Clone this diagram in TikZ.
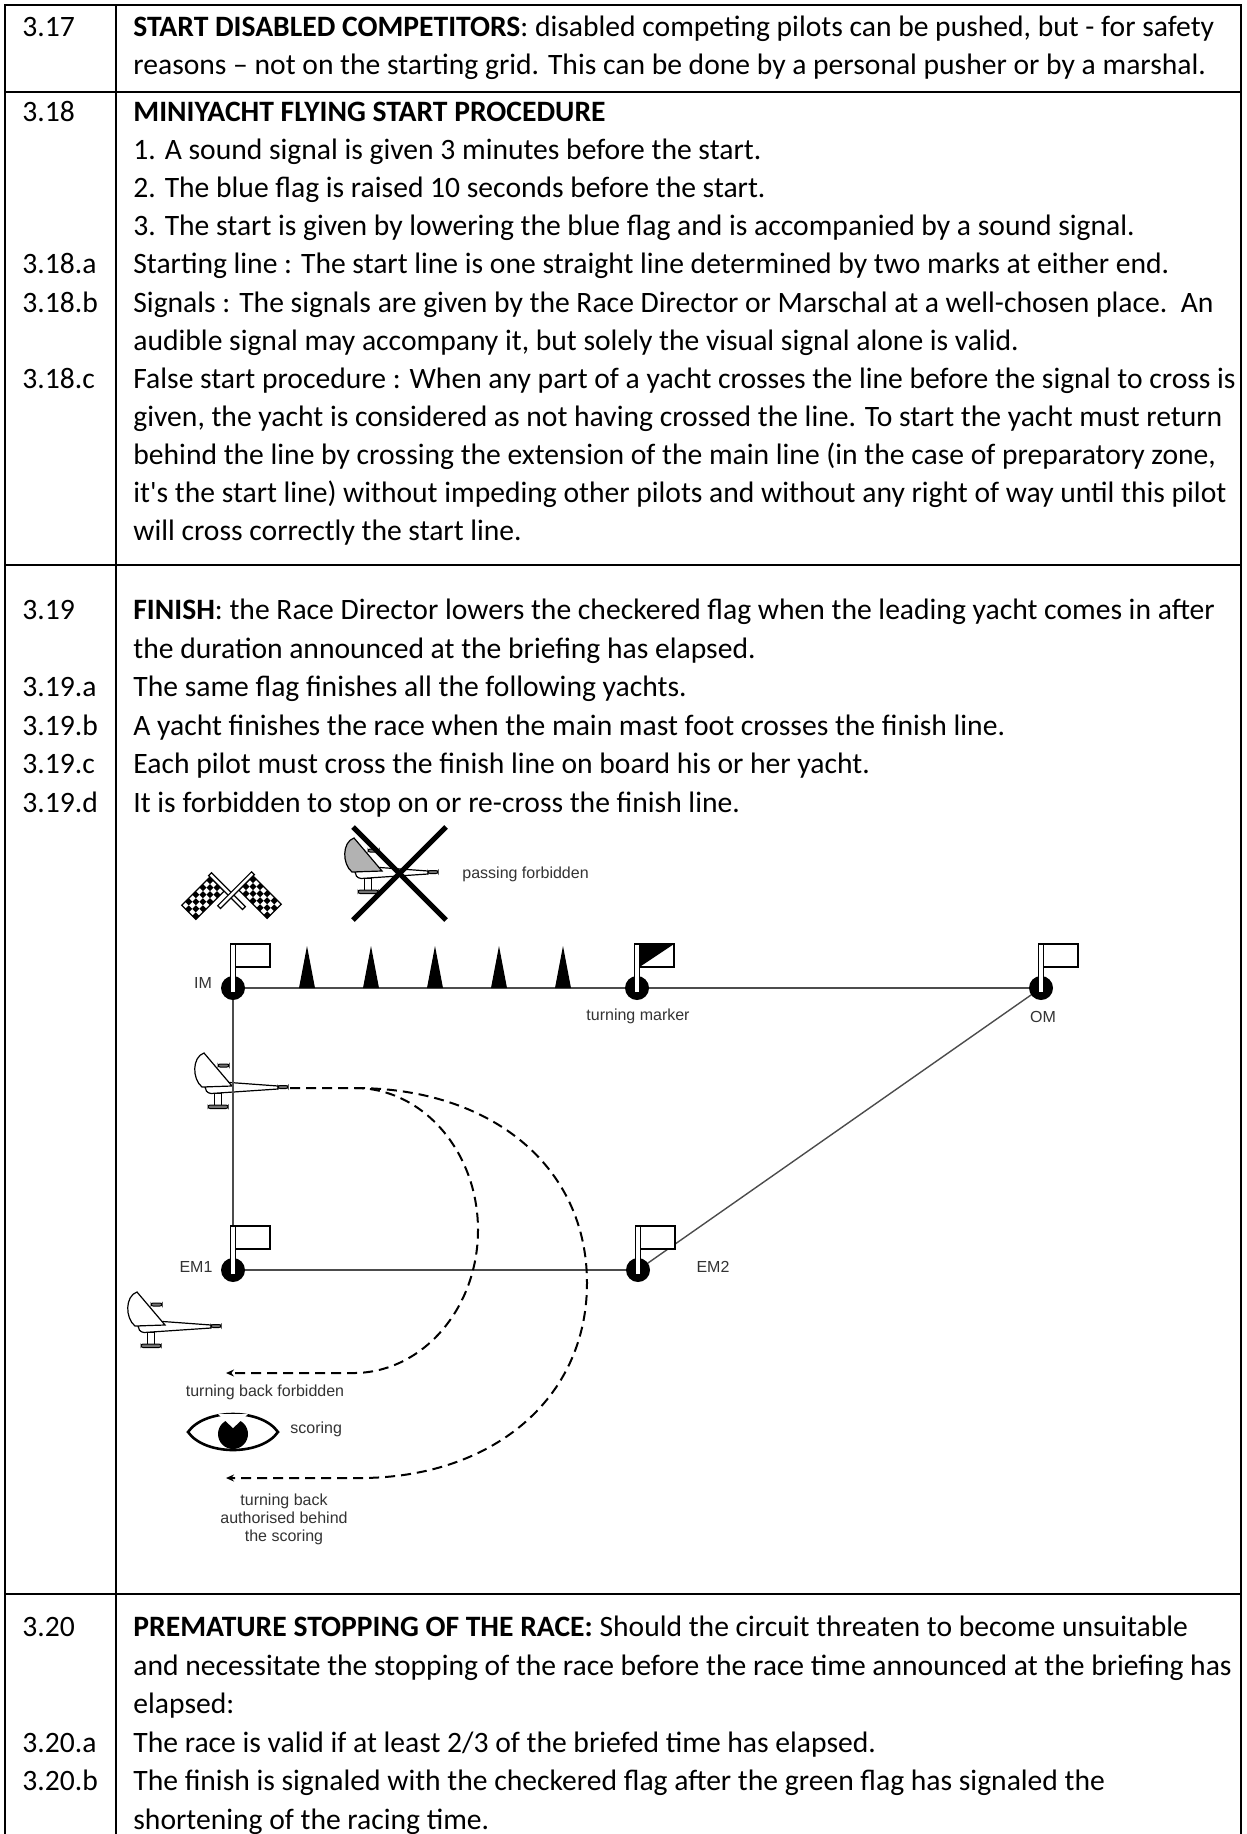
\documentclass[tikz,border=0pt]{standalone}
\usepackage{fontspec}
\setmainfont{Carlito}[Ligatures=TeXOff]
\newfontfamily\lblfont{Liberation Sans}
\usetikzlibrary{arrows.meta}
\tikzset{
  pics/yacht/.style={code={
    \filldraw[fill=white,line width=0.6pt] (3,0) -- (28,-4.5) -- (76,-1) -- (76,2) -- (9,6.5) .. controls (5,6) and (3,3) .. (3,0) -- cycle;
    \filldraw[fill=#1,line width=0.6pt] (0,0) .. controls (-10,-8) and (-10,-30) .. (2,-34) -- (30,-1) -- cycle;
    \filldraw[fill=black!55,line width=0.5pt,rounded corners=1pt] (16,-23) rectangle (27,-20);
    \filldraw[fill=black!55,line width=0.5pt,rounded corners=1pt] (76,-1.5) rectangle (86,1.5);
    \filldraw[fill=white,line width=0.5pt] (12,6.5) rectangle (19,18);
    \filldraw[fill=black!55,line width=0.5pt,rounded corners=1pt] (6,18) rectangle (26,21.5);
  }},
  pics/yacht/.default=white,
  pics/buoy/.style={code={
    \fill (0,0) circle[radius=12];
    \filldraw[fill=white,line width=0.6pt] (-2.5,-44) rectangle (2.5,5);
    \filldraw[fill=white,line width=0.8pt] (2.5,-44) rectangle (37,-21);
  }},
  pics/buoyT/.style={code={
    \fill (0,0) circle[radius=12];
    \filldraw[fill=white,line width=0.6pt] (-2.5,-44) rectangle (2.5,5);
    \filldraw[fill=white,line width=0.8pt] (2.5,-44) rectangle (37,-21);
    \fill (2.5,-44) -- (37,-44) -- (2.5,-21) -- cycle;
    \draw[line width=0.8pt] (2.5,-44) rectangle (37,-21);
  }},
  pics/cflag/.style={code={
    \fill[white] (0,0) rectangle (20,40);
    \foreach \i in {0,1,2,3}{\foreach \j in {0,2,4,6}{
      \fill ({\i*5},{(\j+mod(\i,2))*5}) rectangle +(5,5);}}
    \draw[line width=0.6pt] (0,0) rectangle (20,40);
    \filldraw[fill=white,line width=0.6pt] (-2,-4) rectangle (46,0);
  }}
}
\begin{document}
\begin{tikzpicture}[x=0.5pt,y=-0.5pt,
  txt/.style={anchor=base west,inner sep=0pt,font=\fontsize{14.8}{18}\selectfont},
  lbl/.style={inner sep=0pt,font=\lblfont\fontsize{8}{9}\selectfont,text=black!80},
  grid/.style={line width=1.4pt},
  course/.style={line width=0.7pt,draw=black!70},
  track/.style={line width=1pt,dash pattern=on 5pt off 3pt},
  tip/.style={-{Stealth[length=4pt,width=3.5pt]}}]
\useasboundingbox (0,0) rectangle (1246,1834);
\fill[white] (0,0) rectangle (1246,1834);
% table
\draw[grid] (5,1840) -- (5,5) -- (1241,5) -- (1241,1840);
\draw[grid] (116,5) -- (116,1840);
\draw[grid] (5,92) -- (1241,92);
\draw[grid] (5,565) -- (1241,565);
\draw[grid] (5,1594) -- (1241,1594);
% 3.17
\node[txt] (n317) at (22,37) {3.17};
\node[txt] (a1) at (133,37) {\textbf{START DISABLED COMPETITORS}: disabled competing pilots can be pushed, but - for safety};
\node[txt] (a2) at (133,75) {reasons – not on the starting grid. This can be done by a personal pusher or by a marshal.};
% 3.18
\node[txt] (n318) at (22,122) {3.18};
\node[txt] (b1) at (133,122) {\textbf{MINIYACHT FLYING START PROCEDURE}};
\node[txt] (b2) at (133,160) {1. A sound signal is given 3 minutes before the start.};
\node[txt] (b3) at (133,198) {2. The blue flag is raised 10 seconds before the start.};
\node[txt] (b4) at (133,236) {3. The start is given by lowering the blue flag and is accompanied by a sound signal.};
\node[txt] (n318a) at (22,274) {3.18.a};
\node[txt] (b5) at (133,274) {Starting line : The start line is one straight line determined by two marks at either end.};
\node[txt] (n318b) at (22,312.5) {3.18.b};
\node[txt] (b6) at (133,312.5) {Signals : The signals are given by the Race Director or Marschal at a well-chosen place.\ \ An};
\node[txt] (b7) at (133,350.5) {audible signal may accompany it, but solely the visual signal alone is valid.};
\node[txt] (n318c) at (22,388.5) {3.18.c};
\node[txt] (b8) at (133,388.5) {False start procedure : When any part of a yacht crosses the line before the signal to cross is};
\node[txt] (b9) at (133,426.5) {given, the yacht is considered as not having crossed the line. To start the yacht must return};
\node[txt] (b10) at (133,464.5) {behind the line by crossing the extension of the main line (in the case of preparatory zone,};
\node[txt] (b11) at (133,502.5) {it's the start line) without impeding other pilots and without any right of way until this pilot};
\node[txt] (b12) at (133,540.5) {will cross correctly the start line.};
% 3.19
\node[txt] (n319) at (22,619.5) {3.19};
\node[txt] (c1) at (133,619.5) {\textbf{FINISH}: the Race Director lowers the checkered flag when the leading yacht comes in after};
\node[txt] (c2) at (133,658) {the duration announced at the briefing has elapsed.};
\node[txt] (n319a) at (22,696.5) {3.19.a};
\node[txt] (c3) at (133,696.5) {The same flag finishes all the following yachts.};
\node[txt] (n319b) at (22,735) {3.19.b};
\node[txt] (c4) at (133,735) {A yacht finishes the race when the main mast foot crosses the finish line.};
\node[txt] (n319c) at (22,773.5) {3.19.c};
\node[txt] (c5) at (133,773.5) {Each pilot must cross the finish line on board his or her yacht.};
\node[txt] (n319d) at (22,812) {3.19.d};
\node[txt] (c6) at (133,812) {It is forbidden to stop on or re-cross the finish line.};
% 3.20
\node[txt] (n320) at (22,1636.5) {3.20};
\node[txt] (d1) at (133,1636.5) {\textbf{PREMATURE STOPPING OF THE RACE:} Should the circuit threaten to become unsuitable};
\node[txt] (d2) at (133,1675) {and necessitate the stopping of the race before the race time announced at the briefing has};
\node[txt] (d3) at (133,1713.5) {elapsed:};
\node[txt] (n320a) at (22,1752) {3.20.a};
\node[txt] (d4) at (133,1752) {The race is valid if at least 2/3 of the briefed time has elapsed.};
\node[txt] (n320b) at (22,1790.5) {3.20.b};
\node[txt] (d5) at (133,1790.5) {The finish is signaled with the checkered flag after the green flag has signaled the};
\node[txt] (d6) at (133,1829) {shortening of the racing time.};
% ---------- diagram ----------
\coordinate (IM) at (233,988);
\coordinate (TM) at (637,988);
\coordinate (OM) at (1041,988);
\coordinate (EM1) at (233,1270);
\coordinate (EM2) at (638,1270);
% top symbols
\path (210,877) pic[rotate=-45] {cflag};
\path (253,876) pic[xscale=-1,rotate=-45] {cflag};
\path (352,872) pic {yacht=black!30};
\coordinate (xa) at (353,827); \coordinate (xb) at (446,920);
\coordinate (xc) at (446,827); \coordinate (xd) at (353,920);
\draw[line width=2.6pt] (xa) -- (xb);
\draw[line width=2.6pt] (xc) -- (xd);
\node[lbl,anchor=west] (pf) at (462,874) {passing forbidden};
% yachts
\path (202,1087) pic {yacht};
\path (135,1326) pic {yacht};
% course
\draw[course] (IM) -- (OM);
\draw[course] (IM) -- (EM1);
\draw[course] (EM1) -- (EM2);
\draw[course] (OM) -- (EM2);
% cones
\foreach \cx in {307,371,435,499,563}{\fill (\cx-8,988) -- (\cx,946) -- (\cx+8,988) -- cycle;}
% buoys
\path (IM) pic {buoy};
\path (TM) pic {buoyT};
\path (OM) pic {buoy};
\path (EM1) pic {buoy};
\path (EM2) pic {buoy};
\node[lbl] (lIM) at (203,983) {IM};
\node[lbl] (lTM) at (638,1016) {turning marker};
\node[lbl] (lOM) at (1043,1017) {OM};
\node[lbl] (lEM1) at (196,1267) {EM1};
\node[lbl] (lEM2) at (713,1267) {EM2};
% tracks
\coordinate (nose) at (290,1088);
\coordinate (split) at (355,1088);
\coordinate (arrA) at (226,1373);
\coordinate (arrB) at (226,1478);
\draw[track,tip] (nose) -- (split) .. controls (423,1088) and (478,1152) .. (478,1230) .. controls (478,1308) and (423,1372) .. (355,1373) -- (arrA);
\draw[track,tip] (split) .. controls (491,1088) and (587,1166) .. (587,1283) .. controls (587,1400) and (491,1478) .. (360,1478) -- (arrB);
\node[lbl] (ltbf) at (265,1392) {turning back forbidden};
% eye
\draw[line width=1.3pt] (188,1432) .. controls (205,1408) and (261,1408) .. (278,1432) .. controls (261,1456) and (205,1456) .. (188,1432) -- cycle;
\fill (233,1434) circle[radius=15];
\fill[white] (233,1428) -- (218,1414) -- (248,1414) -- cycle;
\node[lbl,anchor=west] (lsc) at (290,1429) {scoring};
\node[lbl,align=center] (ltba) at (284,1519) {turning back\\authorised behind\\the scoring};
\end{tikzpicture}
\end{document}
